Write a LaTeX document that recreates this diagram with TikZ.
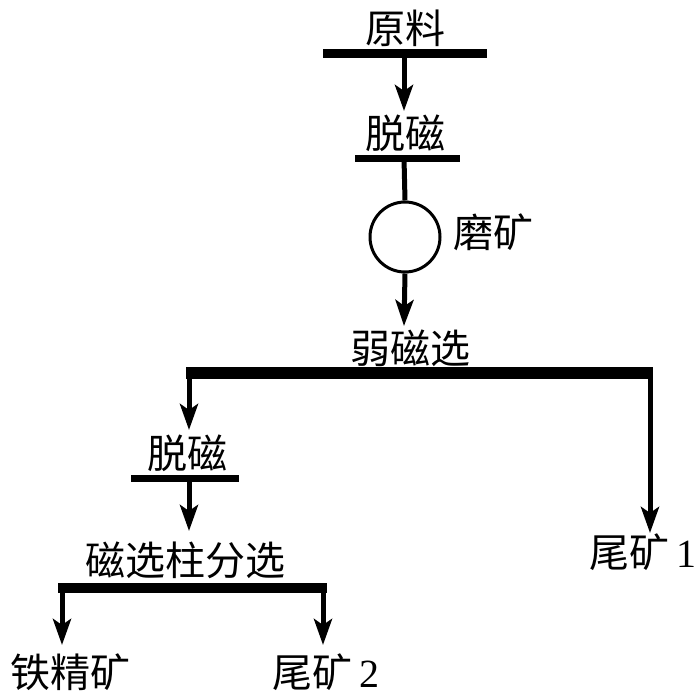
\documentclass[tikz,border=0pt]{standalone}
\usepackage{fontspec}
\newfontfamily\cjk{Noto Sans CJK SC}
\newfontfamily\digitfont{Liberation Serif}
\usetikzlibrary{arrows.meta}
\begin{document}
\begin{tikzpicture}[x=1pt,y=-1pt,
  lbl/.style={font=\cjk\fontsize{40}{44}\selectfont, inner sep=0pt, anchor=center},
  bar/.style={line width=9pt},
  wire/.style={line width=5pt},
  flow/.style={line width=5pt, -{Stealth[length=26pt,width=18pt,inset=6pt]}},
  mill/.style={circle, draw, line width=3pt, minimum size=70pt, inner sep=0pt}]
\useasboundingbox (0,0) rectangle (700,697);
% labels
\node[lbl] (raw) at (405,28) {原料};
\node[lbl] (demagA) at (405,133) {脱磁};
\node[mill] (mill) at (405,237) {};
\node[lbl] (millL) at (493,232) {磨矿};
\node[lbl] (wms) at (410,348) {弱磁选};
\node[lbl] (demagB) at (187,453) {脱磁};
\node[lbl] (col) at (185,560) {磁选柱分选};
\node[lbl] (tail1) at (643,552) {尾矿\,{\digitfont 1}};
\node[lbl] (conc) at (70,672) {铁精矿};
\node[lbl] (tail2) at (326,672) {尾矿\,{\digitfont 2}};
% bar coordinates
\coordinate (b1l) at (323,53); \coordinate (b1r) at (487,53); \coordinate (b1m) at (404,53);
\coordinate (t1) at (404,111);
\coordinate (b2l) at (355,158); \coordinate (b2r) at (460,158); \coordinate (b2m) at (404,158);
\coordinate (t2) at (404,326);
\coordinate (b3l) at (186,373); \coordinate (b3r) at (653,373);
\coordinate (b3a) at (189,373); \coordinate (b3b) at (650,373);
\coordinate (t3a) at (189,430); \coordinate (t3b) at (650,533);
\coordinate (b4l) at (131,478); \coordinate (b4r) at (239,478); \coordinate (b4m) at (189,478);
\coordinate (t4) at (189,531);
\coordinate (b5l) at (58,588); \coordinate (b5r) at (327,588);
\coordinate (b5a) at (62,588); \coordinate (b5b) at (323,588);
\coordinate (t5a) at (62,645); \coordinate (t5b) at (323,645);
% bars
\draw[bar] (b1l) -- (b1r);
\draw[line width=7pt] (b2l) -- (b2r);
\draw[line width=12pt] (b3l) -- (b3r);
\draw[line width=7pt] (b4l) -- (b4r);
\draw[line width=10pt] (b5l) -- (b5r);
% connectors
\draw[flow] (b1m) -- (t1);
\draw[wire] (b2m) -- (mill.north);
\draw[flow] (mill.south) -- (t2);
\draw[flow] (b3a) -- (t3a);
\draw[flow] (b3b) -- (t3b);
\draw[flow] (b4m) -- (t4);
\draw[flow] (b5a) -- (t5a);
\draw[flow] (b5b) -- (t5b);
\end{tikzpicture}
\end{document}
